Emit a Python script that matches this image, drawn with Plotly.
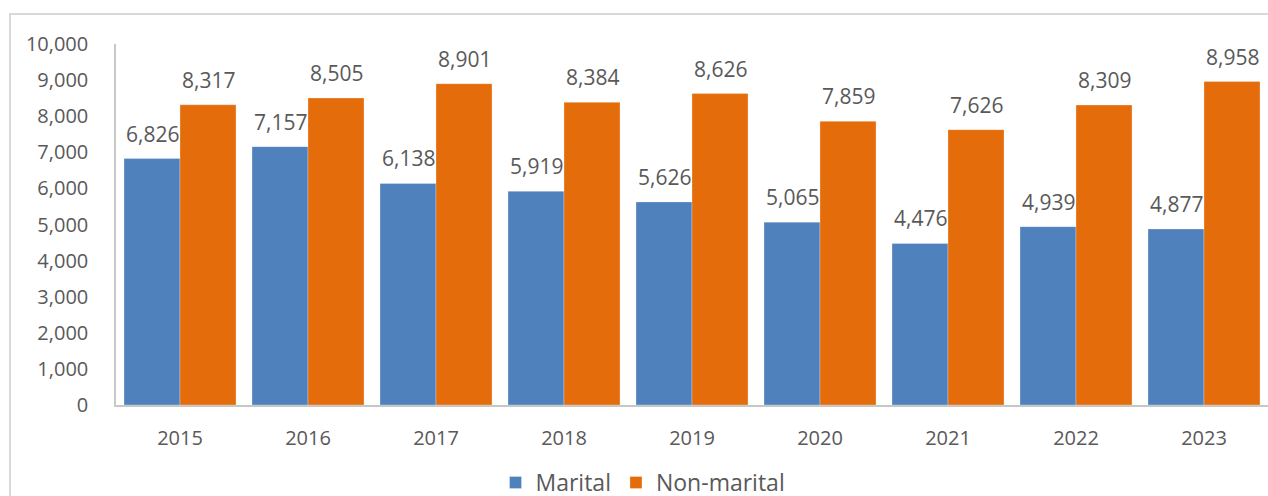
import plotly.graph_objects as go

years = ["2015", "2016", "2017", "2018", "2019", "2020", "2021", "2022", "2023"]
marital = [6826, 7157, 6138, 5919, 5626, 5065, 4476, 4939, 4877]
non_marital = [8317, 8505, 8901, 8384, 8626, 7859, 7626, 8309, 8958]
y_ticks = [0, 1000, 2000, 3000, 4000, 5000, 6000, 7000, 8000, 9000, 10000]

W, H = 1268, 496
ML, MR, MT, MB = 116, 0, 44, 91
PW, PH = W - ML - MR, H - MT - MB

BLUE = "#4F81BD"
ORANGE = "#E46C0A"
TXT = "#595959"
FONT = "Open Sans"
BARGAP = 0.125

fig = go.Figure()
fig.add_trace(go.Bar(name="Marital", x=years, y=marital, marker_color=BLUE,
                     marker_line=dict(width=0.8, color="rgba(255,255,255,0.35)")))
fig.add_trace(go.Bar(name="Non-marital", x=years, y=non_marital, marker_color=ORANGE,
                     marker_line=dict(width=0.8, color="rgba(255,255,255,0.35)")))

annotations = []
half = PW / len(years) * (1 - BARGAP) / 4
for i, v in enumerate(marital):
    annotations.append(dict(x=i, y=v, xref="x", yref="y", text=f"{v:,}", showarrow=False,
                            xshift=-half, yshift=25, yanchor="middle",
                            font=dict(family=FONT, size=21, color=TXT)))
for i, v in enumerate(non_marital):
    annotations.append(dict(x=i, y=v, xref="x", yref="y", text=f"{v:,}", showarrow=False,
                            xshift=half, yshift=25, yanchor="middle",
                            font=dict(family=FONT, size=21, color=TXT)))

def px_x(p):
    return (p - ML) / PW

def px_y(p):
    return (H - MB - p) / PH

fig.update_layout(
    width=W, height=H,
    margin=dict(l=ML, r=MR, t=MT, b=MB, pad=0, autoexpand=False),
    paper_bgcolor="white", plot_bgcolor="white",
    barmode="group", bargap=BARGAP, bargroupgap=0,
    font=dict(family=FONT, size=20, color=TXT),
    showlegend=True,
    legend=dict(orientation="h", x=px_x(643), xanchor="center", y=px_y(461), yanchor="top",
                font=dict(family=FONT, size=23, color=TXT), traceorder="normal",
                bgcolor="rgba(0,0,0,0)"),
    annotations=annotations,
    shapes=[dict(type="rect", xref="paper", yref="paper",
                 x0=px_x(10), x1=px_x(1290), y0=px_y(520), y1=px_y(14),
                 line=dict(color="#D9D9D9", width=2), layer="below")],
    xaxis=dict(type="category", range=[-0.5, len(years) - 0.5], showgrid=False, showline=True,
               linecolor="#C8C8C8", linewidth=1.5,
               ticks="", ticklabelstandoff=14, tickfont=dict(family=FONT, size=20, color=TXT)),
    yaxis=dict(range=[0, 10000], tickvals=y_ticks, tickformat=",", showgrid=False,
               showline=True, linecolor="#C8C8C8", linewidth=1.5, zeroline=False,
               ticks="", ticklabelstandoff=22, tickfont=dict(family=FONT, size=20, color=TXT)),
)

fig.write_html("out.html", config={"displayModeBar": False},
               post_script="document.body.style.margin='0';document.body.style.overflow='hidden';")
